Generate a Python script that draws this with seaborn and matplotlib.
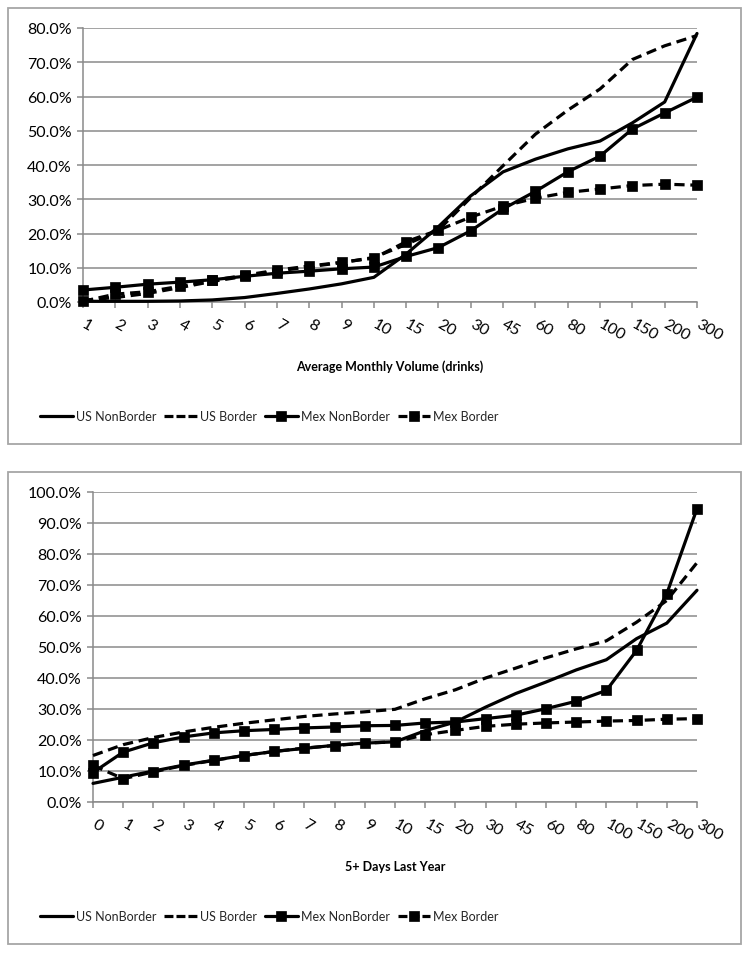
import numpy as np
import pandas as pd
import matplotlib
matplotlib.use("Agg")
import matplotlib.pyplot as plt
import seaborn as sns
from matplotlib.lines import Line2D
from matplotlib.patches import Rectangle
from matplotlib.ticker import PercentFormatter

# Chart 1: Average Monthly Volume (drinks)
volume_cats = ["1", "2", "3", "4", "5", "6", "7", "8", "9", "10", "15", "20",
               "30", "45", "60", "80", "100", "150", "200", "300"]
vol_us_nonborder = [0.2, 0.2, 0.2, 0.3, 0.6, 1.3, 2.5, 3.8, 5.3, 7.2, 14.0, 22.0,
                    31.0, 38.0, 41.7, 44.7, 47.0, 52.3, 58.4, 78.4]
vol_us_border = [0.5, 1.3, 2.5, 4.2, 6.0, 7.5, 9.0, 10.3, 11.5, 13.0, 16.8, 21.0,
                 30.5, 39.8, 49.0, 56.0, 62.2, 70.8, 74.8, 77.8]
vol_mex_nonborder = [3.5, 4.3, 5.2, 5.8, 6.5, 7.5, 8.4, 9.0, 9.7, 10.2, 13.3, 15.9,
                     20.8, 27.2, 32.3, 38.0, 42.6, 50.5, 55.2, 59.8]
vol_mex_border = [0.2, 2.3, 3.0, 4.6, 6.3, 7.8, 9.3, 10.5, 11.6, 12.8, 17.6, 21.0,
                  24.8, 28.0, 30.3, 32.0, 33.0, 34.0, 34.4, 34.1]

# Chart 2: 5+ Days Last Year
days_cats = ["0", "1", "2", "3", "4", "5", "6", "7", "8", "9", "10", "15", "20",
             "30", "45", "60", "80", "100", "150", "200", "300"]
days_us_nonborder = [6.0, 8.0, 10.0, 11.9, 13.5, 15.0, 16.3, 17.3, 18.3, 19.0, 19.4,
                     23.0, 25.8, 30.6, 35.0, 38.7, 42.6, 45.9, 52.7, 57.7, 68.3]
days_us_border = [15.0, 18.5, 20.8, 22.6, 24.1, 25.4, 26.5, 27.6, 28.4, 29.1, 29.9,
                  33.3, 36.2, 40.0, 43.2, 46.5, 49.4, 52.0, 58.0, 65.0, 77.2]
days_mex_nonborder = [9.5, 16.1, 19.1, 21.0, 22.3, 23.0, 23.4, 23.9, 24.2, 24.6, 24.7,
                      25.5, 25.8, 26.9, 28.0, 30.1, 32.5, 36.0, 48.9, 67.2, 94.6]
days_mex_border = [11.8, 7.5, 9.7, 11.8, 13.4, 15.0, 16.3, 17.4, 18.2, 19.0, 19.4,
                   21.7, 23.1, 24.4, 25.1, 25.5, 25.8, 26.1, 26.3, 26.7, 26.9]

series_names = ["US NonBorder", "US Border", "Mex NonBorder", "Mex Border"]
series_dashed = [False, True, False, True]
series_marked = [False, False, True, True]

sns.set_theme(style="white")
plt.rcParams["font.family"] = ["Lato", "DejaVu Sans"]

GRID = "#8a8a8a"
BORDER = "#a6a6a6"
LW = 2.3
W, H = 751, 954

fig = plt.figure(figsize=(W / 100, H / 100), dpi=100)


def px_axes(left, top, right, bottom):
    return fig.add_axes([left / W, 1 - bottom / H, (right - left) / W, (bottom - top) / H])


def panel(left, top, right, bottom):
    fig.patches.append(Rectangle((left / W, 1 - bottom / H), (right - left) / W,
                                 (bottom - top) / H, transform=fig.transFigure,
                                 fill=False, edgecolor=BORDER, linewidth=1.3))


def draw_chart(ax, cats, data, ymax, xlabel, label_y, legend_xy):
    pos = np.arange(len(cats))
    for name, vals, dashed, marked in zip(series_names, data, series_dashed, series_marked):
        df = pd.DataFrame({"x": pos, "y": np.array(vals) / 100})
        sns.lineplot(data=df, x="x", y="y", ax=ax, color="black", linewidth=LW,
                     linestyle=(0, (3.2, 1.8)) if dashed else "-",
                     marker="s" if marked else None, markersize=7,
                     markeredgecolor="black", markeredgewidth=0.5,
                     legend=False, clip_on=False, zorder=3)
    ax.set_xlim(0, len(cats) - 1)
    ax.set_ylim(0, ymax)
    ax.set_yticks(np.arange(0, ymax + 0.001, 0.1))
    ax.yaxis.set_major_formatter(PercentFormatter(1.0, decimals=1))
    ax.set_xticks(pos)
    ax.set_xticklabels(cats, rotation=-30, ha="left", va="center",
                       rotation_mode="anchor")
    ax.grid(axis="y", color=GRID, linewidth=1.1)
    ax.set_axisbelow(True)
    for s in ["top", "right"]:
        ax.spines[s].set_visible(False)
    for s in ["left", "bottom"]:
        ax.spines[s].set_color(GRID)
        ax.spines[s].set_linewidth(1.1)
    ax.tick_params(axis="both", which="major", direction="out", length=4, width=1.1,
                   color=GRID, labelsize=11.5, labelcolor="black", pad=4,
                   bottom=True, left=True)
    ax.tick_params(axis="x", pad=11)
    ax.set_xlabel(xlabel, fontsize=9, fontweight="bold", color="black")
    ax.xaxis.set_label_coords(0.5, label_y)
    ax.xaxis.label.set_va("center")
    ax.set_ylabel("")

    # legend proxies with a shorter dash so the handle reads "- - -" / "-■-"
    handles = [Line2D([], [], color="black", linewidth=LW,
                      linestyle=(0, (2.8, 0.95)) if dashed else "-",
                      marker="s" if marked else None, markersize=7,
                      markeredgecolor="black", markeredgewidth=0.5)
               for dashed, marked in zip(series_dashed, series_marked)]
    ax.legend(handles, series_names, loc="center left", bbox_to_anchor=legend_xy, ncol=4,
              frameon=False, fontsize=9, handlelength=2.6, handletextpad=0.25,
              columnspacing=0.65, borderaxespad=0, borderpad=0)


panel(8, 9, 741, 445)
ax1 = px_axes(83, 29, 697, 303)
draw_chart(ax1, volume_cats,
           [vol_us_nonborder, vol_us_border, vol_mex_nonborder, vol_mex_border],
           0.8, "Average Monthly Volume (drinks)", (303 - 367) / 274,
           ((40 - 83) / 614, (303 - 417) / 274))

panel(8, 473, 741, 945)
ax2 = px_axes(93, 493, 697, 803)
draw_chart(ax2, days_cats,
           [days_us_nonborder, days_us_border, days_mex_nonborder, days_mex_border],
           1.0, "5+ Days Last Year", (803 - 867) / 310,
           ((40 - 93) / 604, (803 - 917) / 310))

fig.savefig("out.png", dpi=100)
